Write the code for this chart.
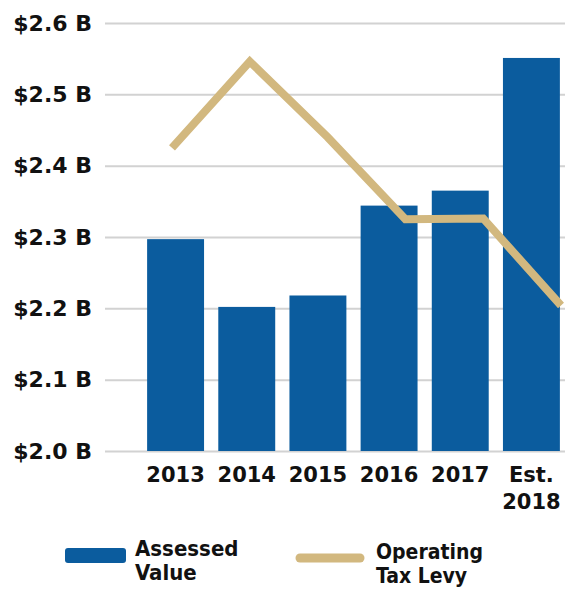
<!DOCTYPE html>
<html>
<head>
<meta charset="utf-8">
<script src="https://cdn.jsdelivr.net/npm/d3@7"></script>
<style>
  body { margin: 0; background: #ffffff; }
  text { font-family: "DejaVu Sans", sans-serif; font-weight: bold; fill: #111111; }
  .legend-text { font-family: "DejaVu Sans Condensed", "DejaVu Sans", sans-serif; font-stretch: condensed; }
</style>
</head>
<body>
<script>
/********************************************************/
// chart data
const years = ["2013", "2014", "2015", "2016", "2017", "Est. 2018"];
const assessedValue = [2.297, 2.202, 2.218, 2.344, 2.365, 2.551];
const operatingLevy = [2.425, 2.546, 2.44, 2.325, 2.326, 2.204];
const yTicks = [2.0, 2.1, 2.2, 2.3, 2.4, 2.5, 2.6];
const legendLabels = [["Assessed", "Value"], ["Operating", "Tax Levy"]];

/********************************************************/
const svgWidth = 565;
const svgHeight = 589;

const blue = "#0b5c9e";
const tan = "#d2b87f";

const svg = d3
  .select("body")
  .append("svg")
  .attr("width", svgWidth)
  .attr("height", svgHeight);

/************** scales ************/
const yScale = d3
  .scaleLinear()
  .domain([2.0, 2.6])
  .range([451, 23]);

const xBand = d3
  .scaleBand()
  .domain(years)
  .range([140, 567])
  .paddingInner(0.2)
  .paddingOuter(0.1);

// the levy line is not spaced like the bars in the original
const xLine = d3
  .scalePoint()
  .domain(years)
  .range([172, 561]);

/************** gridlines + y labels ************/
const leftAxis = d3
  .axisLeft(yScale)
  .tickValues(yTicks)
  .tickSize(-(svgWidth - 105))
  .tickPadding(13)
  .tickFormat((d) => "$" + d.toFixed(1) + " B");

svg
  .append("g")
  .attr("transform", "translate(105,0)")
  .call(leftAxis)
  .call((g) => g.select(".domain").remove())
  .call((g) => g.selectAll(".tick line").attr("stroke", "#d2d2d2").attr("stroke-width", 2))
  .call((g) => g.selectAll(".tick text").attr("font-size", "22px").attr("fill", "#111"));

/************** bars ************/
svg
  .selectAll(".bar")
  .data(years)
  .enter()
  .append("rect")
  .classed("bar", true)
  .attr("x", (d) => xBand(d))
  .attr("y", (d, i) => yScale(assessedValue[i]))
  .attr("width", xBand.bandwidth())
  .attr("height", (d, i) => yScale(2.0) - yScale(assessedValue[i]))
  .attr("fill", blue);

/************** levy line ************/
const levyLine = d3
  .line()
  .x((d) => xLine(d))
  .y((d, i) => yScale(operatingLevy[i]));

svg
  .append("path")
  .attr("d", levyLine(years))
  .attr("fill", "none")
  .attr("stroke", tan)
  .attr("stroke-width", 8)
  .attr("stroke-linejoin", "miter");

/************** x labels ************/
const xLabels = svg
  .selectAll(".xlabel")
  .data(years)
  .enter()
  .append("text")
  .classed("xlabel", true)
  .attr("text-anchor", "middle")
  .attr("font-size", "21px")
  .attr("y", 482);

xLabels
  .selectAll("tspan")
  .data((d) => d.split(" "))
  .enter()
  .append("tspan")
  .attr("x", function () { return xBand(this.parentNode.__data__) + xBand.bandwidth() / 2; })
  .attr("dy", (d, i) => (i === 0 ? 0 : 27))
  .text((d) => d);

/************** legend ************/
svg
  .append("rect")
  .attr("x", 65)
  .attr("y", 548)
  .attr("width", 61)
  .attr("height", 15)
  .attr("rx", 3)
  .attr("fill", blue);

svg
  .append("line")
  .attr("x1", 300)
  .attr("x2", 360)
  .attr("y1", 558)
  .attr("y2", 558)
  .attr("stroke", tan)
  .attr("stroke-width", 9)
  .attr("stroke-linecap", "round");

const legendPos = [[135, 556, 24, 22], [376, 559, 24, 21]];

legendLabels.forEach((lines, k) => {
  const t = svg
    .append("text")
    .classed("legend-text", true)
    .attr("x", legendPos[k][0])
    .attr("y", legendPos[k][1])
    .attr("font-size", legendPos[k][3] + "px");
  lines.forEach((s, i) => {
    t.append("tspan")
      .attr("x", legendPos[k][0])
      .attr("dy", i === 0 ? 0 : legendPos[k][2])
      .text(s);
  });
});
</script>
</body>
</html>
